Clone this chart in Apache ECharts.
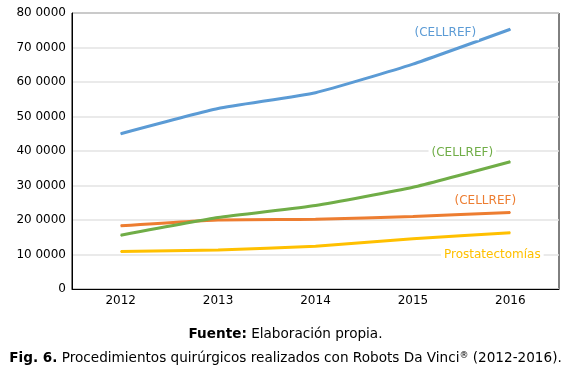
<!DOCTYPE html>
<html><head><meta charset="utf-8">
<script src="https://cdn.jsdelivr.net/npm/echarts@6/dist/echarts.min.js"></script>
<style>html,body{margin:0;padding:0;background:#fff}#c{width:571px;height:371px}</style>
</head><body><div id="c"></div>
<script>
var years = ['2012','2013','2014','2015','2016'];
var blueValues = [45000, 52300, 56900, 65200, 75300];
var greenValues = [15600, 20700, 24200, 29500, 36900];
var orangeValues = [18300, 20000, 20200, 21000, 22200];
var yellowValues = [10900, 11300, 12400, 14600, 16300];
var seriesLabels = ['(CELLREF)', '(CELLREF)', '(CELLREF)', 'Prostatectomías'];
var yTickLabels = ['0','10 0000','20 0000','30 0000','40 0000','50 0000','60 0000','70 0000','80 0000'];
var captionSource = ['Fuente:', ' Elaboración propia.'];
var captionFig = ['Fig. 6.', ' Procedimientos quirúrgicos realizados con Robots Da Vinci', '®', ' (2012-2016).'];

var FONT = '"DejaVu Sans", Verdana, sans-serif';
function mk(name, values, color, labelText, offset) {
  var data = values.map(function (v, i) {
    if (i === values.length - 1) {
      return { value: v, label: { show: true, formatter: labelText, position: 'inside', offset: offset,
        align: 'center', verticalAlign: 'middle',
        color: color, fontFamily: FONT, fontSize: 12, backgroundColor: '#fff', padding: [1, 3] } };
    }
    return v;
  });
  return { name: name, type: 'line', data: data, smooth: 0.15, symbol: 'circle', showSymbol: true,
    symbolSize: 1, lineStyle: { color: color, width: 3 }, itemStyle: { color: color },
    emphasis: { disabled: true }, label: { show: false }, z: 3 };
}
var chart = echarts.init(document.getElementById('c'), null, { renderer: 'canvas' });
chart.setOption({
  animation: false,
  backgroundColor: '#fff',
  grid: { left: 72, top: 13, right: 12, bottom: 82, show: true, borderColor: '#000', borderWidth: 1 },
  xAxis: { type: 'category', data: years, boundaryGap: true,
    axisLine: { lineStyle: { color: '#000', width: 1 } }, axisTick: { show: false },
    axisLabel: { color: '#000', fontFamily: FONT, fontSize: 12, margin: 6 } },
  yAxis: { type: 'value', min: 0, max: 80000, interval: 10000,
    axisLine: { show: true, lineStyle: { color: '#000', width: 1 } }, axisTick: { show: false },
    splitLine: { lineStyle: { color: '#e3e3e3', width: 1.5 } },
    axisLabel: { color: '#000', fontFamily: FONT, fontSize: 12, margin: 6,
      formatter: function (v) { return yTickLabels[Math.round(v / 10000)]; } } },
  series: [
    mk('blue', blueValues, '#5B9BD5', seriesLabels[0], [-65, 4]),
    mk('orange', orangeValues, '#ED7D31', seriesLabels[2], [-25, -12]),
    mk('green', greenValues, '#70AD47', seriesLabels[1], [-48, -9]),
    mk('yellow', yellowValues, '#FFC000', seriesLabels[3], [-18, 22])
  ],
  graphic: [
    { type: 'text', left: 'center', top: 327, style: {
      text: '{b|' + captionSource[0] + '}{n|' + captionSource[1] + '}',
      rich: { b: { fontFamily: FONT, fontSize: 13.6, fontWeight: 'bold', fill: '#000' },
              n: { fontFamily: FONT, fontSize: 13.6, fill: '#000' } } } },
    { type: 'text', left: 'center', top: 351, style: {
      text: '{b|' + captionFig[0] + '}{n|' + captionFig[1] + '}{s|' + captionFig[2] + '}{n|' + captionFig[3] + '}',
      rich: { b: { fontFamily: FONT, fontSize: 13.6, fontWeight: 'bold', fill: '#000' },
              n: { fontFamily: FONT, fontSize: 13.6, fill: '#000' },
              s: { fontFamily: FONT, fontSize: 9, fill: '#000', verticalAlign: 'top', padding: [0, 0, 6, 0] } } } }
  ]
});
</script></body></html>
